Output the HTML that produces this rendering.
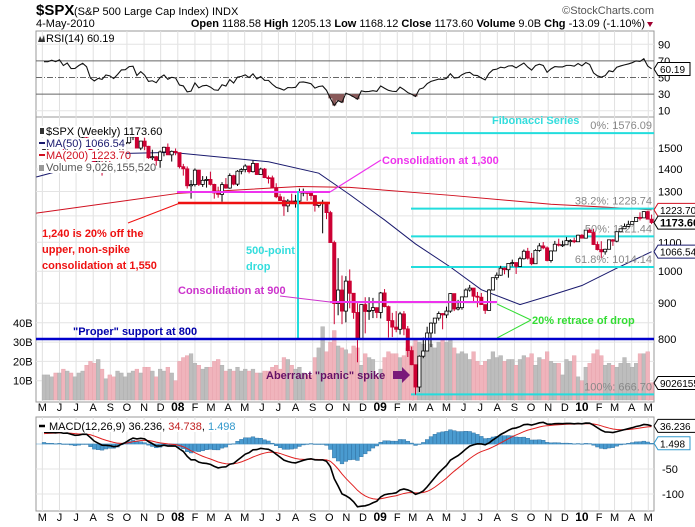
<!DOCTYPE html>
<html><head><meta charset="utf-8"><style>
html,body{margin:0;padding:0;background:#fff}
svg{display:block;font-family:"Liberation Sans",sans-serif}
</style></head><body>
<svg id="c" width="695" height="527" viewBox="0 0 695 527"></svg>
<script>
// ---- data (weekly, starting 4-May-2007) ----
const closes=[1505,1505,1522,1515,1536,1507,1533,1502,1503,1530,1552,1534,1458,1433,1453,1445,1479,1473,1453,1484,1525,1527,1557,1561,1500,1535,1509,1453,1458,1440,1481,1504,1467,1484,1478,
1411,1401,1325,1330,1395,1331,1349,1353,1331,1294,1288,1330,1315,1370,1332,1390,1398,1414,1388,1426,1375,1400,1361,1360,1317,1278,1262,1240,1260,1257,1260,1296,1298,1292,1283,1242,1252,1255,1213,1099,899,940,877,968,930,873,800,896,876,879,887,873,
931,890,850,832,826,869,827,770,735,683,756,769,816,843,857,870,866,877,929,883,887,919,940,946,921,918,896,879,940,979,987,1010,1005,1026,1029,1016,1042,1068,1044,1025,1071,1087,1080,1036,1069,1093,1091,1091,1106,1106,1102,1126,1115,
1145,1136,1092,1074,1066,1075,1109,1104,1139,1150,1159,1167,1178,1194,1192,1217,1187,1174];
const highs=[1510,1513,1523,1529,1540,1540,1538,1540,1514,1533,1556,1556,1534,1488,1503,1456,1481,1490,1481,1485,1530,1539,1561,1576,1564,1535,1552,1511,1492,1462,1488,1507,1523,1488,1498,
1471,1424,1412,1350,1403,1396,1368,1367,1388,1334,1321,1341,1359,1380,1374,1395,1404,1422,1415,1440,1426,1406,1405,1370,1370,1336,1291,1278,1268,1291,1286,1313,1313,1300,1303,1285,1255,1265,1255,1220,1106,1044,986,984,1006,912,900,896,918,918,916,888,
934,943,893,872,877,875,877,835,780,735,758,804,833,845,857,876,871,890,930,924,910,920,945,956,946,934,931,896,943,979,996,1018,1013,1027,1039,1030,1049,1074,1080,1062,1075,1097,1101,1085,1071,1105,1113,1106,1119,1111,1117,1128,1130,
1145,1150,1150,1103,1104,1077,1110,1112,1139,1150,1170,1181,1180,1194,1214,1218,1220,1205];
const lows=[1490,1491,1498,1505,1510,1490,1492,1500,1484,1500,1525,1530,1455,1430,1430,1370,1430,1432,1450,1450,1482,1517,1520,1540,1498,1490,1490,1448,1442,1416,1406,1460,1467,1435,1465,
1403,1370,1313,1270,1322,1324,1320,1317,1326,1270,1274,1257,1312,1312,1327,1324,1376,1385,1380,1384,1373,1374,1359,1335,1314,1272,1260,1200,1215,1250,1233,1248,1280,1261,1265,1217,1233,1133,1187,1099,840,865,840,845,885,855,741,800,815,852,857,857,
856,888,804,805,818,812,810,754,734,666,672,751,771,779,814,850,826,857,872,877,879,881,919,935,904,888,895,869,879,940,972,985,990,979,1016,991,1016,1039,1039,1020,1025,1066,1075,1033,1029,1069,1085,1083,1091,1085,1097,1102,1115,
1115,1136,1090,1071,1045,1056,1075,1087,1100,1137,1150,1156,1167,1178,1182,1192,1187,1168];
const volumes=[13,13,12,14,14,16,15,14,12,14,15,18,20,19,21,16,11,13,12,15,14,12,14,15,16,14,17,17,15,12,16,15,17,14,10,
20,22,23,24,19,18,16,17,17,20,21,18,15,16,15,17,15,16,15,16,14,14,15,15,17,18,16,22,21,18,16,17,14,13,13,22,27,38,25,30,36,28,27,26,24,28,27,18,24,22,21,12,
16,22,25,24,24,22,23,27,28,32,30,29,28,29,27,30,31,30,31,27,24,25,24,21,25,20,18,20,21,25,22,23,20,21,21,18,21,23,22,24,18,22,21,25,20,19,19,13,21,20,23,12,10,
17,19,24,26,23,18,19,18,17,19,22,19,17,19,24,24,25,9];
const priceTicks=[1500,1400,1300,1100,1000,900,800];
const volTicks=[10,20,30,40];
const rsiTicks=[90,70,50,30,10];
const macdTicks=[-50,-100];
const monthLabels=["M","J","J","A","S","O","N","D","08","F","M","A","M","J","J","A","S","O","N","D","09","F","M","A","M","J","J","A","S","O","N","D","10","F","M","A","M"];
const fibLevels=[1576.09,1228.74,1121.44,1014.14,666.70];
const fibNames=["0%: 1576.09","38.2%: 1228.74","50%: 1121.44","61.8%: 1014.14","100%: 666.70"];
const ma50Pts=[[-2,1364],[21,1474],[33,1479],[58,1434],[71,1381],[79,1287],[88,1184],[96,1094],[105,1014],[113,941],[123,896],[131,924],[139,954],[148,1010],[157,1066.54]];
const ma200Pts=[[-2,1211],[35,1293],[66,1322],[79,1318],[105,1284],[131,1247],[145,1235],[157,1223.7]];

// ---- scales ----
const X0=44, WK=3.87;
const xw=i=>X0+i*WK;
const t0=Date.UTC(2007,4,4);
const xd=(y,m)=>X0+(Date.UTC(y,m,1)-t0)/(7*864e5)*WK;
const yp=p=>339-(Math.log(p)-Math.log(800))*303.7;
const yv=v=>400-v*1.93;
const yr=v=>77.5-(v-50)*0.83;
const ym=v=>444-v*0.5;
const L=36,R=654;
const svg=document.getElementById('c');
const NS="http://www.w3.org/2000/svg";
function el(tag,attrs,parent){const e=document.createElementNS(NS,tag);for(const k in attrs)e.setAttribute(k,attrs[k]);(parent||svg).appendChild(e);return e;}
function tx(s,x,y,size,fill,weight,anchor,parent){const e=el('text',{x:x,y:y,'font-size':size,fill:fill,'font-weight':weight||'normal','text-anchor':anchor||'start'},parent);e.textContent=s;return e;}

const months=[];
for(let k=0;k<37;k++){const m=(4+k)%12,y=2007+Math.floor((4+k)/12);months.push(xd(y,m));}

// ---- panels ----
const panels=[[L,31,R,117,'rsi-panel'],[L,117,R,402,'price-panel'],[L,417,R,511,'macd-panel']];
panels.forEach(p=>{const r=el('rect',{x:p[0],y:p[1],width:p[2]-p[0],height:p[3]-p[1],fill:'#fff',stroke:'#999'});

});
panels.forEach(p=>{months.forEach(mx=>{if(mx>L&&mx<R)el('line',{x1:mx,y1:p[1],x2:mx,y2:p[3],stroke:'#e0e0e0'});});});
priceTicks.forEach(v=>el('line',{x1:L,y1:yp(v),x2:R,y2:yp(v),stroke:'#e4e4e4'}));
[1200].forEach(v=>el('line',{x1:L,y1:yp(v),x2:R,y2:yp(v),stroke:'#e4e4e4'}));
volTicks.forEach(v=>el('line',{x1:L,y1:yv(v),x2:R,y2:yv(v),stroke:'#e4e4e4'}));
[90,10].forEach(v=>el('line',{x1:L,y1:yr(v),x2:R,y2:yr(v),stroke:'#e4e4e4'}));
macdTicks.forEach(v=>el('line',{x1:L,y1:ym(v),x2:R,y2:ym(v),stroke:'#e4e4e4'}));

// ---- header ----
const h=tx('$SPX',36,15,15,'#000','bold');
tx('(S&P 500 Large Cap Index) INDX',74,15,11,'#000');
tx('©StockCharts.com',654,14,11,'#555','normal','end');
tx('4-May-2010',36,27,11,'#000');
const q=el('text',{x:645,y:27,'font-size':11,'text-anchor':'end'});

q.innerHTML='<tspan font-weight="bold">Open</tspan> 1188.58 <tspan font-weight="bold">High</tspan> 1205.13 <tspan font-weight="bold">Low</tspan> 1168.12 <tspan font-weight="bold">Close</tspan> 1173.60 <tspan font-weight="bold">Volume</tspan> 9.0B <tspan font-weight="bold">Chg</tspan> -13.09 (-1.10%)';
el('path',{d:'M647,22 L653,22 L650,27 Z',fill:'#a00030'});

// ---- RSI ----
const rsi=[];(function(){let ag=17,al=8;for(let i=0;i<closes.length;i++){const prev=i?closes[i-1]:1494;const d=closes[i]-prev;ag=(ag*13+Math.max(d,0))/14;al=(al*13+Math.max(-d,0))/14;rsi.push(100-100/(1+ag/al));}})();
el('line',{x1:L,y1:yr(70),x2:R,y2:yr(70),stroke:'#666'});
el('line',{x1:L,y1:yr(30),x2:R,y2:yr(30),stroke:'#666'});
el('line',{x1:L,y1:yr(50),x2:R,y2:yr(50),stroke:'#666','stroke-dasharray':'6,2,1,2'});
let fp='';rsi.forEach((v,i)=>{if(v<30){fp+=`M${xw(i)-2},${yr(30)} L${xw(i)-2},${yr(v)} L${xw(i)+2},${yr(v)} L${xw(i)+2},${yr(30)} Z `;}});
if(fp)el('path',{d:fp,fill:'#8a5a5a'});
const rl=el('polyline',{points:rsi.map((v,i)=>xw(i)+','+yr(v)).join(' '),fill:'none',stroke:'#111','stroke-width':1.1});

rsiTicks.forEach(v=>tx(String(v),658,yr(v)+4,11,'#000'));
tx('RSI(14) 60.19',46,42,11,'#000');
el('path',{d:'M38,42 L40,36 L42,40 L44,35 L45,42 Z',fill:'#333'});

// ---- volume ----
volumes.forEach((v,i)=>{const down=closes[i]<(i?closes[i-1]:1494);
const b=el('rect',{x:xw(i)-1.9,y:yv(v),width:3.8,height:400-yv(v),fill:down?'#f0b4bc':'#bdbdbd',stroke:down?'#e7a0aa':'#aaa','stroke-width':0.4});

});
volTicks.forEach(v=>tx(v+'B',13,yv(v)+4,11,'#000'));

// ---- Moving averages ----
const pathOf=pts=>pts.map((p,k)=>(k?'L':'M')+Math.max(xw(p[0]),L)+','+yp(p[1])).join(' ');
const m200=el('path',{d:pathOf(ma200Pts),fill:'none',stroke:'#d01020','stroke-width':1});

const m50=el('path',{d:pathOf(ma50Pts),fill:'none',stroke:'#1a1a6e','stroke-width':1});


// ---- Fibonacci ----
const fx0=411;
fibLevels.forEach((v,k)=>{const l=el('line',{x1:fx0,y1:yp(v),x2:R,y2:yp(v),stroke:'#22dddd','stroke-width':2});

tx(fibNames[k],652,yp(v)-4,11,'#888','normal','end');});
tx('Fibonacci Series',492,124,11,'#33dddd','bold');

// ---- candles ----
closes.forEach((c,i)=>{const o=i?closes[i-1]:1494;const up=c>=o;const col=up?'#000':'#cc0033';const x=xw(i);
el('line',{x1:x,y1:yp(highs[i]),x2:x,y2:yp(lows[i]),stroke:col,'stroke-width':1});
const top=yp(Math.max(o,c)),bot=yp(Math.min(o,c));
const b=el('rect',{x:x-1.6,y:top,width:3.2,height:Math.max(bot-top,1),fill:up?'#fff':col,stroke:col,'stroke-width':0.8});

});
priceTicks.forEach(v=>tx(String(v),658,yp(v)+4,11,'#000'));

// ---- annotations ----
el('line',{x1:178,y1:203,x2:330,y2:203,stroke:'#ee1111','stroke-width':2.5});
el('line',{x1:128,y1:223,x2:180,y2:203,stroke:'#ee1111','stroke-width':1});
el('line',{x1:177,y1:192,x2:330,y2:192,stroke:'#ee33ee','stroke-width':2});
el('line',{x1:330,y1:192,x2:381,y2:160,stroke:'#ee33ee','stroke-width':1.2});
tx('Consolidation at 1,300',382,164,11,'#ee33ee','bold');
['1,240 is 20% off the','upper, non-spike','consolidation at 1,550'].forEach((s,k)=>tx(s,42,237+k*16,11,'#ee1111','bold'));
el('line',{x1:298,y1:191,x2:298,y2:339,stroke:'#22dddd','stroke-width':2});
tx('500-point',246,254,11,'#33dddd','bold');tx('drop',246,270,11,'#33dddd','bold');
tx('Consolidation at 900',178,294,11,'#cc33cc','bold');
el('line',{x1:280,y1:296,x2:330,y2:302,stroke:'#cc33cc','stroke-width':1});
el('line',{x1:330,y1:302,x2:497,y2:302,stroke:'#ee33ee','stroke-width':2});
el('line',{x1:497,y1:304,x2:531,y2:320,stroke:'#33dd33','stroke-width':1});
el('line',{x1:497,y1:338,x2:531,y2:320,stroke:'#33dd33','stroke-width':1});
tx('20% retrace of drop',532,324,11,'#33dd33','bold');
const sup=el('line',{x1:L,y1:yp(800),x2:R,y2:yp(800),stroke:'#0000cc','stroke-width':2.5});

tx('"Proper" support at 800',73,335,11,'#0000aa','bold');
tx('Aberrant "panic" spike',266,379,11,'#661166','bold');
el('path',{d:'M393,371 L402,371 L402,367 L410,375 L402,383 L402,379 L393,379 Z',fill:'#7a1a7a'});

// ---- legend ----
[[125,'$SPX (Weekly) 1173.60','#000'],[137,'MA(50) 1066.54','#1a1a6e'],[149,'MA(200) 1223.70','#d01020'],[161,'Volume 9,026,155,520','#555']].forEach((r,k)=>{
el('rect',{x:38,y:r[0]+1,width:k==3?108:(k==0?112:88),height:11,fill:'#fff'});
const t=tx(r[1],46,r[0]+10,11,r[2]);});
el('rect',{x:40,y:128,width:4,height:6,fill:'#333'});
el('line',{x1:39,y1:143,x2:45,y2:143,stroke:'#1a1a6e','stroke-width':2});
el('line',{x1:39,y1:155,x2:45,y2:155,stroke:'#d01020','stroke-width':2});
el('rect',{x:39,y:165,width:5,height:6,fill:'#999'});

// ---- MACD ----
const macd=[],sig=[],hist=[];(function(){let e12=1495,e26=1470,s=20;const a12=2/13,a26=2/27,a9=2/10;
for(let i=0;i<closes.length;i++){e12+=a12*(closes[i]-e12);e26+=a26*(closes[i]-e26);const m=e12-e26;s+=a9*(m-s);macd.push(m);sig.push(s);hist.push(m-s);}})();
hist.forEach((v,i)=>{const y0=ym(0),y1=ym(v);const b=el('rect',{x:xw(i)-1.9,y:Math.min(y0,y1),width:3.8,height:Math.max(Math.abs(y1-y0),0.5),fill:'#4a9bd0',stroke:'#2a6a9a','stroke-width':0.4});

});
el('line',{x1:L,y1:ym(0),x2:R,y2:ym(0),stroke:'#4a9bd0','stroke-width':0.6});
const sl=el('polyline',{points:sig.map((v,i)=>xw(i)+','+ym(v)).join(' '),fill:'none',stroke:'#e02020','stroke-width':1});

const ml=el('polyline',{points:macd.map((v,i)=>xw(i)+','+ym(v)).join(' '),fill:'none',stroke:'#000','stroke-width':1.6});

macdTicks.forEach(v=>tx(String(v),662,ym(v)+4,11,'#000'));
el('rect',{x:38,y:420,width:200,height:12,fill:'#fff'});
el('line',{x1:39,y1:426,x2:45,y2:426,stroke:'#000','stroke-width':2.5});
const mt=el('text',{x:49,y:430,'font-size':11});

mt.innerHTML='MACD(12,26,9) 36.236, <tspan fill="#c02020">34.738</tspan>, <tspan fill="#3399cc">1.498</tspan>';

// ---- month labels ----
[411,521].forEach(yy=>{monthLabels.forEach((s,k)=>{const big=s.length==2;const t=tx(s,months[k],yy,big?12:11,'#000',big?'bold':'normal','middle');

});});

// ---- right tags ----
function tag(y,label,stroke,bold){const fs=bold?11:10;const w=label.length*(bold?6.2:5.6)+4;el('path',{d:`M${R},${y} L${R+4},${y-6.5} L${R+4+w},${y-6.5} L${R+4+w},${y+6.5} L${R+4},${y+6.5} Z`,fill:'#fff',stroke:stroke,'stroke-width':1});
const t=tx(label,R+6,y+4,fs,'#000',bold?'bold':'normal');}
tag(yr(60.19),'60.19','#000');
tag(yp(1223.7),'1223.70','#d01020');
tag(yp(1173.6),'1173.60','#000',true);
tag(yp(1066.54),'1066.54','#1a1a6e');
tag(383,'9026155','#000');
tag(ym(36.236),'36.236','#000');
tag(ym(1.498),'1.498','#3399cc');
</script>
</body></html>
